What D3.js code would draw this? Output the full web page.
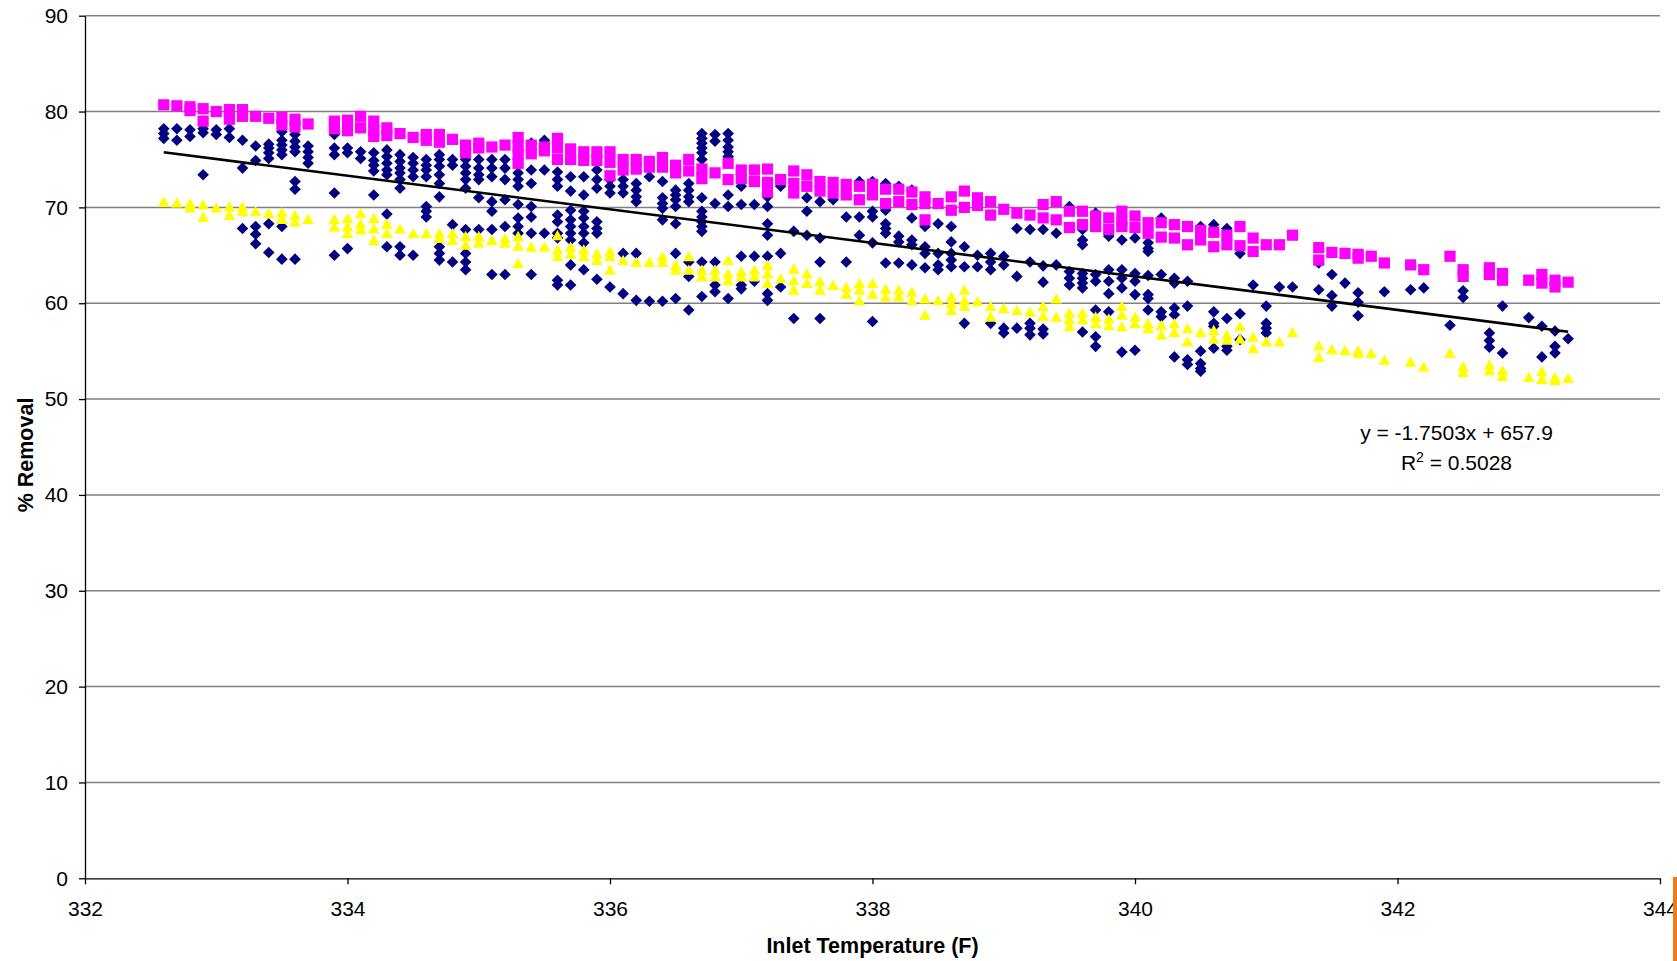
<!DOCTYPE html>
<html>
<head>
<meta charset="utf-8">
<script src="https://cdn.jsdelivr.net/npm/d3@7"></script>
<style>
  html, body { margin: 0; padding: 0; background: #fff; }
  svg { display: block; }
  text { font-family: "Liberation Sans", Arial, sans-serif; fill: #000; }
</style>
</head>
<body>
<svg id="chart" width="1677" height="961"></svg>
<script>
// Inlet temperature (F) at which readings were taken
const temps = [
  332.6, 332.7, 332.8, 332.9, 333.0, 333.1, 333.2, 333.3, 333.4, 333.5, 333.6, 333.7,
  333.9, 334.0, 334.1, 334.2, 334.3, 334.4, 334.5, 334.6, 334.7, 334.8, 334.9, 335.0,
  335.1, 335.2, 335.3, 335.4, 335.5, 335.6, 335.7, 335.8, 335.9, 336.0, 336.1, 336.2,
  336.3, 336.4, 336.5, 336.6, 336.7, 336.8, 336.9, 337.0, 337.1, 337.2, 337.3, 337.4,
  337.5, 337.6, 337.7, 337.8, 337.9, 338.0, 338.1, 338.2, 338.3, 338.4, 338.5, 338.6,
  338.7, 338.8, 338.9, 339.0, 339.1, 339.2, 339.3, 339.4, 339.5, 339.6, 339.7, 339.8,
  339.9, 340.0, 340.1, 340.2, 340.3, 340.4, 340.5, 340.6, 340.7, 340.8, 340.9, 341.0,
  341.1, 341.2, 341.4, 341.5, 341.6, 341.7, 341.8, 341.9, 342.1, 342.2, 342.4, 342.5,
  342.7, 342.8, 343.0, 343.1, 343.2, 343.3
];

// % removal, measured (navy diamonds), one list per temperature
const measured = [
  [78.2, 77.7, 77.2], [78.2, 77.0], [78.1, 77.4], [78.2, 77.8, 73.4], [78.1, 77.6], [78.2, 77.3],
  [77.0, 74.1, 67.8], [76.4, 74.9, 68.0, 67.2, 66.2], [76.6, 76.2, 75.7, 75.1, 68.3, 65.3],
  [77.9, 77.0, 76.5, 76.0, 75.5, 68.0, 64.6], [77.6, 76.9, 76.3, 75.8, 72.7, 71.9, 64.6],
  [76.4, 75.8, 75.2, 74.6],
  [77.6, 76.2, 75.5, 71.5, 65.0], [76.2, 75.7, 65.7], [75.8, 75.1],
  [75.7, 74.9, 74.4, 73.8, 71.3], [76.0, 75.3, 74.6, 73.9, 73.4, 69.3, 65.9],
  [75.5, 74.8, 74.1, 73.6, 72.9, 72.0, 65.9, 65.0], [75.2, 74.6, 73.9, 73.2, 65.0],
  [75.0, 74.4, 73.9, 73.2, 70.1, 69.6, 69.0], [75.5, 75.0, 74.3, 73.4, 72.5, 71.1, 65.9, 65.2, 64.5],
  [75.0, 74.4, 68.2, 64.3], [75.0, 74.3, 73.6, 72.9, 72.0, 67.7, 65.2, 64.3, 63.5],
  [75.0, 74.1, 73.4, 72.9, 71.0, 67.7],
  [75.0, 74.1, 73.2, 70.6, 69.6, 67.7, 63.0], [75.0, 74.1, 72.9, 70.8, 68.0, 63.0],
  [73.6, 72.9, 72.2, 70.3, 68.9, 68.0, 67.3], [76.7, 73.9, 72.5, 70.1, 69.0, 67.3, 63.0],
  [77.0, 73.9, 67.3], [73.7, 72.9, 72.2, 69.2, 68.5, 67.3, 66.8, 62.4, 61.9],
  [73.2, 71.7, 69.7, 68.7, 68.0, 67.3, 66.6, 64.0, 61.9], [73.2, 71.3, 69.6, 68.9, 68.0, 67.3, 66.3, 63.5],
  [73.9, 72.9, 72.0, 68.5, 67.8, 67.3, 62.5], [72.9, 72.2, 71.5, 61.7],
  [72.9, 72.2, 71.5, 65.2, 61.0], [72.5, 71.8, 71.1, 70.6, 65.2, 60.3],
  [73.2, 60.2], [72.7, 71.0, 70.4, 69.9, 68.7, 60.2], [71.8, 71.3, 70.8, 70.1, 68.3, 65.2, 60.5],
  [72.5, 71.8, 71.1, 70.6, 64.3, 62.8, 59.3],
  [77.7, 77.2, 76.7, 76.2, 75.7, 75.0, 71.0, 69.6, 69.0, 68.5, 68.0, 67.5, 64.3, 60.7],
  [77.6, 76.9, 70.4, 64.3, 61.9, 61.2], [77.7, 77.0, 76.3, 75.8, 75.3, 71.3, 70.1, 60.5],
  [72.2, 70.3, 64.9, 61.9, 61.5], [73.9, 70.3, 64.9, 62.3],
  [71.1, 70.1, 68.3, 67.1, 64.9, 61.0, 60.3], [72.2, 65.2, 61.7], [67.5, 58.4],
  [71.0, 69.6, 67.1], [70.6, 66.8, 64.3, 58.4], [70.8], [69.0, 64.3],
  [72.7, 69.0, 67.1], [72.7, 69.6, 69.0, 66.3, 58.1], [72.5, 69.7, 68.3, 67.8, 67.3, 64.2],
  [72.2, 67.0, 66.4, 64.2], [71.8, 68.9, 66.6, 66.1, 64.0], [68.0, 65.9, 65.2, 63.7],
  [68.3, 65.2, 64.0, 63.5], [68.0, 66.4, 65.2, 64.5, 63.8],
  [65.9, 63.8, 57.9], [65.0, 63.8], [65.2, 64.3, 63.5, 57.9], [64.9, 64.0, 57.4, 56.9],
  [67.8, 62.8, 57.4], [67.7, 64.3, 57.9, 57.4, 56.7], [67.7, 63.9, 62.2, 57.3, 56.8],
  [67.3, 64.0], [70.1, 63.3, 62.6, 61.9], [67.7, 66.6, 66.1, 63.1, 62.6, 62.1, 61.6, 57.0],
  [69.4, 63.0, 62.3, 59.3, 56.5, 55.5], [67.0, 63.5, 62.3, 61.0, 59.1],
  [66.6, 63.5, 62.6, 61.6, 54.9], [66.8, 63.1, 62.3, 60.9, 55.1],
  [66.3, 65.7, 65.4, 62.9, 60.9, 60.5, 59.3], [68.9, 63.0, 59.1, 58.6],
  [62.6, 62.1, 59.5, 58.8, 54.4], [62.3, 59.7, 54.1, 53.6], [68.0, 55.0, 53.7, 53.2, 52.9],
  [68.2, 59.1, 57.9, 57.6, 55.3], [67.8, 58.4, 55.5, 55.1], [65.2, 58.9, 56.2],
  [61.9], [59.7, 57.9, 57.4, 56.9],
  [61.7], [61.7], [64.2, 61.4], [63.0, 60.8, 59.7], [62.1], [61.1, 60.1, 58.7], [], [61.2],
  [61.4], [61.6], [57.7], [61.3, 60.6],
  [56.9, 56.1, 55.4], [59.7, 54.8], [58.5], [57.6, 54.4], [57.1, 55.5, 54.8], [56.3]
];

// % removal, upper series (magenta squares)
const upper = [
  [80.7], [80.6], [80.5, 80.1], [80.3, 79.0], [80.0], [80.2, 79.2], [80.2, 79.5], [79.5], [79.3],
  [79.4, 78.6], [79.2, 78.4], [78.7],
  [79.0, 78.2], [79.1, 78.0], [79.5, 78.3], [79.0, 78.0, 77.4], [78.3, 77.5], [77.7], [77.3],
  [77.6, 77.0], [77.6, 76.8], [77.1], [76.5, 75.7], [76.7, 76.2],
  [76.3], [76.5], [77.3, 76.3, 75.5, 74.6], [76.5, 75.6], [76.3, 75.9], [77.2, 76.2, 75.0],
  [76.1, 75.0], [75.8, 74.9], [75.8, 74.9], [75.8, 74.7, 73.3], [75.0, 73.9], [75.0, 74.0],
  [74.8, 74.2], [75.2, 74.2], [74.4, 73.6], [75.0, 73.8], [74.0, 73.0], [73.6], [74.6, 72.9],
  [73.9, 73.0], [73.9, 72.7], [74.0, 72.6, 71.6], [72.9], [73.8, 72.5, 71.5],
  [73.4, 72.2], [72.7, 71.7], [72.6, 71.5], [72.4, 71.3], [72.2, 70.8], [72.4, 71.3],
  [71.9, 70.4], [71.9, 70.6], [71.6, 70.3], [71.1, 70.4, 68.7], [70.4], [71.1, 69.7],
  [71.7, 70.0], [71.0, 70.2], [70.6, 69.2], [69.8], [69.4], [69.2], [70.3, 68.9],
  [70.6, 68.7], [69.6, 67.9], [69.6, 68.2], [69.1, 68.0], [68.9, 67.7],
  [69.6, 68.6, 68.0], [69.1, 67.9], [68.4, 67.3], [68.4, 66.9], [68.2, 66.8], [68.0, 66.1],
  [67.6, 66.6], [67.4, 65.9], [67.1, 66.1], [68.0, 66.0], [66.8, 65.4], [66.1],
  [66.1], [67.1], [65.8, 64.5], [65.3], [65.2], [65.1, 64.7], [64.9], [64.2],
  [64.0], [63.5], [64.9], [63.5, 62.8],
  [63.7, 63.0], [63.1, 62.4], [62.4], [63.0, 62.1], [62.4, 61.7], [62.2]
];

// % removal, lower series (yellow triangles)
const lower = [
  [70.6], [70.5], [70.4, 70.0], [70.3, 69.0], [70.0], [70.1, 69.2], [70.1, 69.6], [69.6], [69.4],
  [69.5, 68.8], [69.2, 68.5], [68.8],
  [68.8, 68.0], [68.9, 68.0, 67.3], [69.4, 68.3, 67.7], [68.9, 67.8, 66.6], [68.3, 67.3], [67.8],
  [67.3], [67.3], [67.3, 66.8], [67.3, 66.6], [67.0, 66.1], [67.0, 66.3],
  [66.6], [66.8, 66.3], [67.0, 66.0, 64.2], [65.9], [65.9], [67.1, 65.6, 64.9],
  [65.9, 65.2], [65.6, 64.9], [65.2, 64.5], [65.4, 64.9, 63.5], [64.5], [64.3],
  [64.3], [64.9, 64.3], [64.0, 63.5], [64.9, 63.5], [63.5, 62.8], [63.5, 62.8], [64.5, 63.1, 62.4],
  [63.3, 62.8], [63.5, 62.8], [64.0, 63.1, 62.1], [62.6], [63.6, 62.4, 61.4],
  [63.1, 62.1], [62.3, 61.4], [61.9], [61.7, 61.0], [62.1, 61.4, 60.3], [62.1, 61.0],
  [61.5, 60.7], [61.4, 60.7], [61.2, 60.3], [60.5, 58.8], [60.3], [60.7, 60.0, 59.3],
  [61.4, 60.3, 59.7], [60.2], [59.7, 58.6], [59.5], [59.3], [59.1], [59.7, 58.7],
  [60.5, 58.6], [59.0, 58.3, 57.6], [59.0, 58.3], [58.6, 57.9], [58.4, 57.7],
  [59.7, 58.8, 57.6], [58.6, 57.9], [57.9, 57.4], [57.7, 56.7], [57.9, 57.0], [57.4, 56.0],
  [57.0], [57.2, 56.3], [56.7, 56.2], [57.6, 56.3], [56.5, 55.3], [56.0],
  [56.0], [57.0], [55.6, 54.4], [55.2], [55.1], [55.1, 54.8], [54.8], [54.1],
  [53.9], [53.4], [54.8], [53.4, 52.8],
  [53.6, 53.0], [53.0, 52.4], [52.3], [52.9, 52.1], [52.3, 52.0], [52.2]
];

// Linear trend of the measured series
const trendSlope = -1.7503;
const trendIntercept = 657.9;
const trendR2 = 0.5028;

const xTicks = [332, 334, 336, 338, 340, 342, 344];
const yTicks = [0, 10, 20, 30, 40, 50, 60, 70, 80, 90];

const svg = d3.select("#chart");
const W = 1677, H = 961;
const plot = { left: 85, right: 1660, top: 15.7, bottom: 878.3 };

const x = d3.scaleLinear().domain([332, 344]).range([plot.left, plot.right]);
const y = d3.scaleLinear().domain([0, 90]).range([plot.bottom, plot.top]);

svg.append("rect").attr("width", W).attr("height", H).attr("fill", "#fff");

// horizontal gridlines
svg.append("g")
  .selectAll("line")
  .data(yTicks.filter(d => d > 0))
  .join("line")
  .attr("x1", plot.left).attr("x2", plot.right)
  .attr("y1", d => y(d)).attr("y2", d => y(d))
  .attr("stroke", "#808080").attr("stroke-width", 1.5);

// axes
const yAxis = svg.append("g")
  .attr("transform", `translate(${plot.left},0)`)
  .call(d3.axisLeft(y).tickValues(yTicks).tickSize(6).tickSizeOuter(0).tickPadding(11));
const xAxis = svg.append("g")
  .attr("transform", `translate(0,${plot.bottom})`)
  .call(d3.axisBottom(x).tickValues(xTicks).tickSize(6).tickSizeOuter(0).tickPadding(17));

[yAxis, xAxis].forEach(g => {
  g.select(".domain").attr("stroke", "#000").attr("stroke-width", 1.3);
  g.selectAll(".tick line").attr("stroke", "#000").attr("stroke-width", 1.3);
  g.selectAll(".tick text")
    .attr("font-family", "'Liberation Sans', Arial, sans-serif")
    .attr("font-size", 21).attr("fill", "#000");
});

// flatten a per-temperature series into points
const points = cols => temps.flatMap((t, i) => cols[i].map(v => ({ t, v })));

const diamond = "M0,-5.8L5.8,0L0,5.8L-5.8,0Z";
const triangle = "M0,-5.3L5.8,5.0L-5.8,5.0Z";

svg.append("g")
  .selectAll("path")
  .data(points(measured))
  .join("path")
  .attr("d", diamond)
  .attr("transform", d => `translate(${x(d.t)},${y(d.v)})`)
  .attr("fill", "#000080");

svg.append("g")
  .selectAll("rect")
  .data(points(upper))
  .join("rect")
  .attr("x", d => x(d.t) - 5.6).attr("y", d => y(d.v) - 5.6)
  .attr("width", 11.2).attr("height", 11.2)
  .attr("fill", "#ff00ff");

svg.append("g")
  .selectAll("path")
  .data(points(lower))
  .join("path")
  .attr("d", triangle)
  .attr("transform", d => `translate(${x(d.t)},${y(d.v)})`)
  .attr("fill", "#ffff00");

// trend line across the range of the measured data
const tMin = d3.min(temps), tMax = d3.max(temps);
svg.append("line")
  .attr("x1", x(tMin)).attr("y1", y(trendSlope * tMin + trendIntercept))
  .attr("x2", x(tMax)).attr("y2", y(trendSlope * tMax + trendIntercept))
  .attr("stroke", "#000").attr("stroke-width", 2.6);

// trend equation
const eq = svg.append("g").attr("font-size", 21).attr("text-anchor", "middle");
eq.append("text").attr("x", 1456.5).attr("y", 440)
  .text(`y = ${trendSlope}x + ${trendIntercept}`);
const r2 = eq.append("text").attr("x", 1456.5).attr("y", 470);
r2.append("tspan").text("R");
r2.append("tspan").attr("font-size", 14).attr("dy", -8).text("2");
r2.append("tspan").attr("dy", 8).text(` = ${trendR2}`);

// axis titles
svg.append("text")
  .attr("x", (plot.left + plot.right) / 2).attr("y", 953)
  .attr("text-anchor", "middle").attr("font-size", 21.5).attr("font-weight", "bold")
  .text("Inlet Temperature (F)");
svg.append("text")
  .attr("transform", "translate(33,455) rotate(-90)")
  .attr("text-anchor", "middle").attr("font-size", 21.5).attr("font-weight", "bold")
  .text("% Removal");

// orange strip at the lower right edge
svg.append("rect").attr("x", 1673).attr("y", 877).attr("width", 4).attr("height", 84)
  .attr("fill", "#f07a1e");
</script>
</body>
</html>
